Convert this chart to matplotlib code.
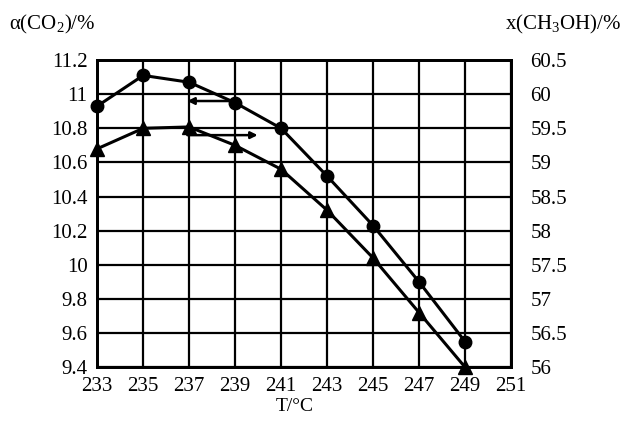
import matplotlib
matplotlib.use("Agg")
import matplotlib.pyplot as plt

plt.rcParams['font.family'] = ['Liberation Serif', 'DejaVu Serif']
plt.rcParams['mathtext.fontset'] = 'custom'
plt.rcParams['mathtext.rm'] = 'Liberation Serif'

# 数据
temps = [233, 235, 237, 239, 241, 243, 245, 247, 249]
co2_conv = [10.93, 11.11, 11.07, 10.95, 10.80, 10.52, 10.23, 9.90, 9.55]
ch3oh_frac = [59.2, 59.5, 59.52, 59.25, 58.9, 58.3, 57.6, 56.8, 56.0]

x_ticks = [233, 235, 237, 239, 241, 243, 245, 247, 249, 251]
left_ticks = [9.4, 9.6, 9.8, 10, 10.2, 10.4, 10.6, 10.8, 11, 11.2]
left_labels = ['9.4', '9.6', '9.8', '10', '10.2', '10.4', '10.6', '10.8', '11', '11.2']
right_ticks = [56, 56.5, 57, 57.5, 58, 58.5, 59, 59.5, 60, 60.5]
right_labels = ['56', '56.5', '57', '57.5', '58', '58.5', '59', '59.5', '60', '60.5']

fig = plt.figure(figsize=(6.27, 4.23), dpi=100)
ax = fig.add_axes([0.155, 0.132, 0.66, 0.726])
ax2 = ax.twinx()

ax.plot(temps, co2_conv, color='black', lw=2.2, marker='o', ms=9, zorder=3, clip_on=False)
ax2.plot(temps, ch3oh_frac, color='black', lw=2.2, marker='^', ms=10, zorder=3, clip_on=False)

ax.set_xlim(233, 251)
ax.set_ylim(9.4, 11.2)
ax2.set_ylim(56, 60.5)

ax.set_xticks(x_ticks)
ax.set_yticks(left_ticks)
ax.set_yticklabels(left_labels)
ax2.set_yticks(right_ticks)
ax2.set_yticklabels(right_labels)

ax.grid(True, color='black', lw=1.6)
ax.tick_params(length=0, labelsize=15, pad=7)
ax2.tick_params(length=0, labelsize=15, pad=14)
for a in (ax, ax2):
    for s in a.spines.values():
        s.set_linewidth(2)

# 指示曲线所属坐标轴的箭头
ax.annotate('', xy=(236.8, 10.96), xytext=(238.9, 10.96),
            arrowprops=dict(arrowstyle='-|>', color='black', lw=1.8))
ax.annotate('', xy=(240.1, 10.76), xytext=(236.8, 10.76),
            arrowprops=dict(arrowstyle='-|>', color='black', lw=1.8))

fig.text(0.015, 0.915, 'α(CO$_2$)/%', fontsize=15, ha='left', va='bottom')
fig.text(0.99, 0.915, 'x(CH$_3$OH)/%', fontsize=15, ha='right', va='bottom')
fig.text(0.47, 0.02, 'T/°C', fontsize=14, ha='center', va='bottom')

fig.savefig('out.png', dpi=100)
